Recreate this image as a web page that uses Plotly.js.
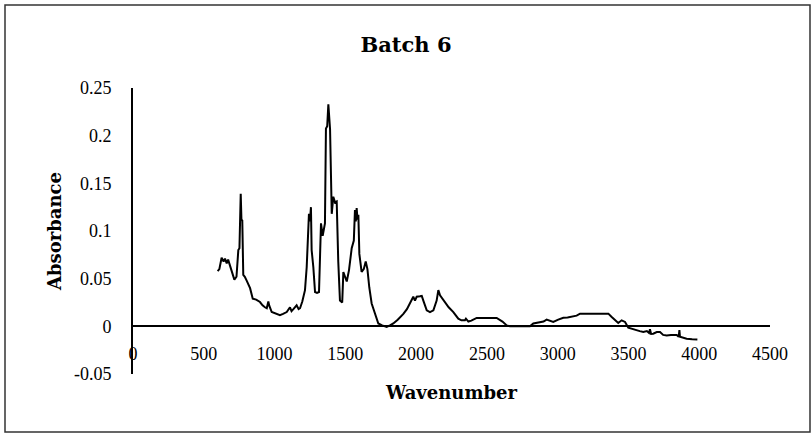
<!DOCTYPE html>
<html>
<head>
<meta charset="utf-8">
<script src="https://cdn.plot.ly/plotly-3.0.1.min.js"></script>
<style>html,body{margin:0;padding:0;background:#fff;}#chart{width:812px;height:434px;}</style>
</head>
<body>
<div id="chart"></div>
<script>
// Wavenumber values (x)
const wavenumber = [598, 610, 626, 640, 650, 662, 672, 685, 697, 716, 731, 744, 752, 761, 766, 772, 779, 790, 803, 815, 827, 846, 870, 897, 915, 932, 945, 956, 962, 980, 1000, 1020, 1038, 1060, 1086, 1109, 1120, 1133, 1156, 1170, 1180, 1196, 1215, 1227, 1243, 1250, 1257, 1262, 1274, 1286, 1300, 1314, 1321, 1328, 1340, 1356, 1363, 1372, 1380, 1386, 1392, 1404, 1415, 1427, 1439, 1450, 1462, 1478, 1486, 1498, 1510, 1526, 1545, 1560, 1568, 1574, 1580, 1586, 1592, 1599, 1615, 1630, 1644, 1656, 1669, 1686, 1709, 1733, 1760, 1792, 1815, 1839, 1870, 1910, 1935, 1957, 1980, 1992, 2004, 2027, 2040, 2051, 2075, 2098, 2122, 2145, 2157, 2169, 2200, 2230, 2263, 2298, 2320, 2345, 2352, 2369, 2390, 2428, 2500, 2569, 2610, 2640, 2663, 2720, 2804, 2828, 2875, 2900, 2922, 2945, 2969, 3004, 3040, 3070, 3099, 3134, 3158, 3250, 3358, 3380, 3405, 3428, 3452, 3476, 3499, 3530, 3558, 3580, 3605, 3630, 3645, 3652, 3660, 3675, 3700, 3723, 3745, 3770, 3800, 3841, 3855, 3860, 3864, 3890, 3911, 3950, 3987];
// Absorbance values (y)
const absorbance = [0.058, 0.060, 0.072, 0.068, 0.071, 0.066, 0.070, 0.064, 0.056, 0.049, 0.052, 0.080, 0.082, 0.139, 0.112, 0.111, 0.054, 0.052, 0.048, 0.044, 0.040, 0.029, 0.028, 0.0255, 0.022, 0.020, 0.019, 0.026, 0.022, 0.015, 0.014, 0.013, 0.0116, 0.013, 0.015, 0.020, 0.016, 0.018, 0.022, 0.018, 0.019, 0.026, 0.038, 0.062, 0.118, 0.110, 0.125, 0.080, 0.062, 0.036, 0.035, 0.036, 0.069, 0.108, 0.095, 0.108, 0.2076, 0.210, 0.233, 0.215, 0.207, 0.118, 0.136, 0.130, 0.131, 0.068, 0.027, 0.025, 0.057, 0.052, 0.047, 0.059, 0.082, 0.090, 0.122, 0.110, 0.124, 0.112, 0.117, 0.076, 0.057, 0.060, 0.068, 0.060, 0.041, 0.024, 0.0136, 0.003, 0.001, -0.0007, 0.001, 0.003, 0.007, 0.013, 0.018, 0.024, 0.031, 0.027, 0.031, 0.0315, 0.032, 0.027, 0.0168, 0.015, 0.0168, 0.027, 0.038, 0.0325, 0.026, 0.020, 0.015, 0.008, 0.0063, 0.0063, 0.008, 0.005, 0.006, 0.0088, 0.0088, 0.0088, 0.005, 0.001, 0.0, 0.0, 0.0, 0.003, 0.0046, 0.005, 0.007, 0.006, 0.0046, 0.007, 0.009, 0.0092, 0.0098, 0.0112, 0.0133, 0.0133, 0.0133, 0.010, 0.0063, 0.0035, 0.0063, 0.0046, -0.0014, -0.003, -0.0042, -0.005, -0.006, -0.005, -0.007, -0.003, -0.008, -0.0077, -0.006, -0.006, -0.009, -0.0095, -0.009, -0.009, -0.011, -0.004, -0.011, -0.012, -0.013, -0.0135, -0.0137];

const xTickVals = [0, 500, 1000, 1500, 2000, 2500, 3000, 3500, 4000, 4500];
const xTickText = ['0', '500', '1000', '1500', '2000', '2500', '3000', '3500', '4000', '4500'];
const yTickVals = [-0.05, 0, 0.05, 0.1, 0.15, 0.2, 0.25];
const yTickText = ['-0.05', '0', '0.05', '0.1', '0.15', '0.2', '0.25'];

const chartTitle = 'Batch 6';
const xTitle = 'Wavenumber';
const yTitle = 'Absorbance';

const tickFont = {family: 'Liberation Serif', size: 18, color: '#000'};
const boldFont = {family: 'DejaVu Serif', size: 18, color: '#000', weight: 'bold'};

const trace = {
  x: wavenumber, y: absorbance, type: 'scatter', mode: 'lines',
  line: {color: '#000', width: 2}, hoverinfo: 'skip'
};

const layout = {
  width: 812, height: 434,
  margin: {l: 133, r: 42, t: 88, b: 60, pad: 0},
  paper_bgcolor: '#fff', plot_bgcolor: '#fff',
  showlegend: false,
  title: {text: chartTitle, font: {family: 'DejaVu Serif', size: 21, color: '#000', weight: 'bold'},
          x: 0.5, xref: 'container', xanchor: 'center', y: 1 - 45/434, yref: 'container', yanchor: 'middle'},
  xaxis: {
    range: [0, 4500], tickvals: xTickVals, ticktext: xTickText,
    anchor: 'free', position: 1/6,
    showline: true, linecolor: '#000', linewidth: 2,
    showgrid: false, zeroline: false,
    ticks: 'outside', ticklen: 11, tickcolor: 'rgba(0,0,0,0)',
    tickfont: tickFont,
    title: {text: xTitle, font: boldFont, standoff: 22},
    automargin: false
  },
  yaxis: {
    range: [-0.05, 0.25], tickvals: yTickVals, ticktext: yTickText,
    showline: true, linecolor: '#000', linewidth: 2,
    showgrid: false, zeroline: false,
    ticks: 'outside', ticklen: 16, tickcolor: 'rgba(0,0,0,0)',
    tickfont: tickFont,
    title: {text: yTitle, font: boldFont, standoff: 8},
    automargin: false
  },
  shapes: [{
    type: 'rect', xref: 'paper', yref: 'paper',
    x0: (5 - 133) / 637, x1: (810 - 133) / 637,
    y0: (374 - 432) / 286, y1: (374 - 5) / 286,
    line: {color: '#333', width: 1.5}, fillcolor: 'rgba(0,0,0,0)', layer: 'below'
  }]
};

Plotly.newPlot('chart', [trace], layout, {staticPlot: true, displayModeBar: false});
</script>
</body>
</html>
